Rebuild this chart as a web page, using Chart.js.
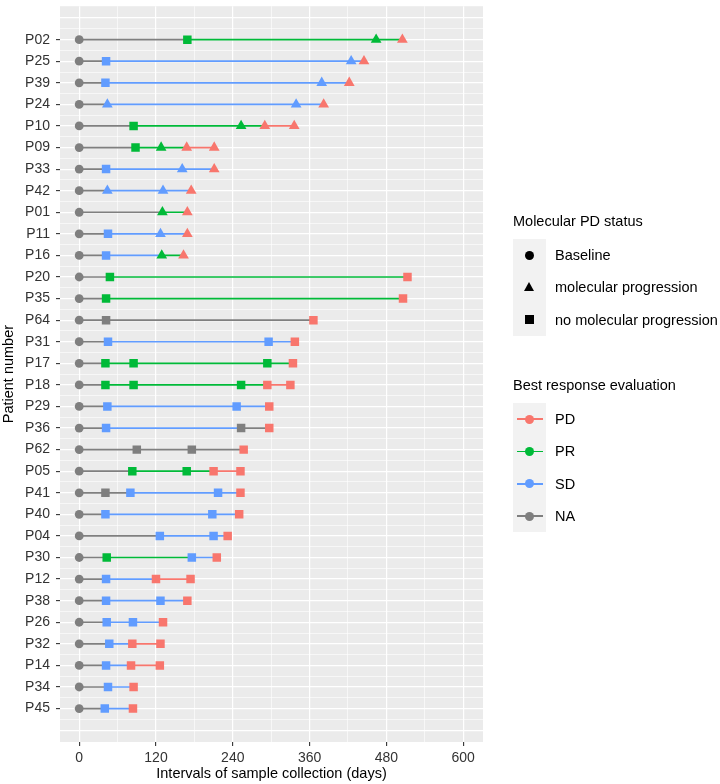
<!DOCTYPE html>
<html>
<head>
<meta charset="utf-8">
<script src="https://cdn.jsdelivr.net/npm/chart.js@4.4.0/dist/chart.umd.min.js"></script>
<style>
  body { margin: 0; background: #fff; }
  #wrap { position: relative; width: 720px; height: 784px; font-family: "Liberation Sans", Arial, sans-serif; }
  #chart { position: absolute; left: 0; top: 0; }
  .ltitle, .lab { position: absolute; left: 513px; font-size: 14.5px; line-height: 18px; height: 18px; color: #000; white-space: nowrap; }
  .lab { left: 555px; }
  .keybox { position: absolute; left: 513px; width: 33px; background: #F2F2F2; }
  .sym { position: absolute; }
</style>
</head>
<body>
<div id="wrap">
  <canvas id="chart" width="720" height="784"></canvas>
</div>
<script>
// swimmer plot: one row per patient, sample collection days

const patients = ['P02','P25','P39','P24','P10','P09','P33','P42','P01','P11','P16','P20','P35','P64','P31','P17',
                  'P18','P29','P36','P62','P05','P41','P40','P04','P30','P12','P38','P26','P32','P14','P34','P45'];

// days of each sample, per patient
const days = [
  [0,169,464,505], [0,42,425,445], [0,41,379,422], [0,44,339,382],
  [0,85,253,290,336], [0,88,128,168,211], [0,42,161,211], [0,44,131,175],
  [0,130,169], [0,45,127,169], [0,42,129,163], [0,48,513],
  [0,42,506], [0,42,366], [0,45,296,337], [0,41,85,294,334],
  [0,41,85,253,294,330], [0,44,246,297], [0,42,253,297], [0,90,176,257],
  [0,83,168,210,252], [0,41,80,217,252], [0,41,208,250], [0,126,210,232],
  [0,43,176,215], [0,42,120,174], [0,42,127,169], [0,43,84,131],
  [0,47,83,127], [0,42,81,126], [0,45,85], [0,40,84]
];

// molecular PD status: B = Baseline, M = molecular progression, N = no molecular progression
const status = [
  ['B','N','M','M'], ['B','N','M','M'], ['B','N','M','M'], ['B','M','M','M'],
  ['B','N','M','M','M'], ['B','N','M','M','M'], ['B','N','M','M'], ['B','M','M','M'],
  ['B','M','M'], ['B','N','M','M'], ['B','N','M','M'], ['B','N','N'],
  ['B','N','N'], ['B','N','N'], ['B','N','N','N'], ['B','N','N','N','N'],
  ['B','N','N','N','N','N'], ['B','N','N','N'], ['B','N','N','N'], ['B','N','N','N'],
  ['B','N','N','N','N'], ['B','N','N','N','N'], ['B','N','N','N'], ['B','N','N','N'],
  ['B','N','N','N'], ['B','N','N','N'], ['B','N','N','N'], ['B','N','N','N'],
  ['B','N','N','N'], ['B','N','N','N'], ['B','N','N'], ['B','N','N']
];

// best response evaluation at each sample
const response = [
  ['NA','PR','PR','PD'], ['NA','SD','SD','PD'], ['NA','SD','SD','PD'], ['NA','SD','SD','PD'],
  ['NA','PR','PR','PD','PD'], ['NA','PR','PR','PD','PD'], ['NA','SD','SD','PD'], ['NA','SD','SD','PD'],
  ['NA','PR','PD'], ['NA','SD','SD','PD'], ['NA','SD','PR','PD'], ['NA','PR','PD'],
  ['NA','PR','PD'], ['NA','NA','PD'], ['NA','SD','SD','PD'], ['NA','PR','PR','PR','PD'],
  ['NA','PR','PR','PR','PD','PD'], ['NA','SD','SD','PD'], ['NA','SD','NA','PD'], ['NA','NA','NA','PD'],
  ['NA','PR','PR','PD','PD'], ['NA','NA','SD','SD','PD'], ['NA','SD','SD','PD'], ['NA','SD','SD','PD'],
  ['NA','PR','SD','PD'], ['NA','SD','PD','PD'], ['NA','SD','SD','PD'], ['NA','SD','SD','PD'],
  ['NA','SD','PD','PD'], ['NA','SD','PD','PD'], ['NA','SD','PD'], ['NA','SD','PD']
];

const xTickValues = [0, 60, 120, 180, 240, 300, 360, 420, 480, 540, 600];

const statusLevels = ['B', 'M', 'N'];
const statusLabels = { B: 'Baseline', M: 'molecular progression', N: 'no molecular progression' };
const responseLevels = ['PD', 'PR', 'SD', 'NA'];

const responseColors = { PD: '#F8766D', PR: '#00BA38', SD: '#619CFF', NA: '#7F7F7F' };
const pointStyles = { B: 'circle', M: 'triangle', N: 'rect' };
const pointSizes = { B: 4.4, M: 6.2, N: 6 };

// grey panel behind the grid, ggplot style
const panelBg = {
  id: 'panelBg',
  beforeDraw(chart) {
    const { ctx, chartArea: a } = chart;
    ctx.save();
    ctx.fillStyle = '#EBEBEB';
    ctx.fillRect(a.left, a.top, a.right - a.left, a.bottom - a.top);
    ctx.restore();
  }
};

const datasets = patients.map((p, i) => ({
  label: p,
  data: days[i].map(d => ({ x: d, y: i })),
  showLine: true,
  borderWidth: 1.7,
  borderColor: responseColors.NA,
  segment: {
    // segment takes the colour of the sample it starts from
    borderColor: ctx => responseColors[response[i][ctx.p0DataIndex]]
  },
  pointStyle: status[i].map(s => pointStyles[s]),
  pointRadius: status[i].map(s => pointSizes[s]),
  pointBackgroundColor: response[i].map(r => responseColors[r]),
  pointBorderWidth: 0,
  tension: 0
}));

const yTickValues = [];
for (let v = -1; v <= 32; v += 0.5) yTickValues.push(v);

const isLabelRow = v => Number.isInteger(v) && v >= 0 && v < patients.length;

new Chart(document.getElementById('chart').getContext('2d'), {
  type: 'scatter',
  data: { datasets },
  plugins: [panelBg],
  options: {
    responsive: false,
    animation: false,
    devicePixelRatio: 1,
    events: [],
    layout: { padding: { left: 0, top: 3, right: 237, bottom: 0 } },
    plugins: { legend: { display: false }, tooltip: { enabled: false } },
    scales: {
      x: {
        type: 'linear',
        min: -30,
        max: 631,
        afterBuildTicks: scale => { scale.ticks = xTickValues.map(v => ({ value: v })); },
        afterFit: scale => { scale.height = 42; scale.paddingLeft = 0; scale.paddingRight = 0; },
        border: { display: false },
        grid: {
          color: '#FFFFFF',
          lineWidth: ctx => (ctx.tick && ctx.tick.value % 120 === 0) ? 1.2 : 0.6,
          tickLength: 4,
          tickWidth: 1.1,
          tickColor: ctx => (ctx.tick && ctx.tick.value % 120 === 0) ? '#333333' : 'rgba(0,0,0,0)'
        },
        ticks: {
          autoSkip: false,
          maxRotation: 0,
          padding: 4,
          color: '#333333',
          font: { family: 'Liberation Sans', size: 14 },
          callback: v => v % 120 === 0 ? String(v) : ''
        },
        title: {
          display: true,
          text: 'Intervals of sample collection (days)',
          color: '#000',
          font: { family: 'Liberation Sans', size: 14.5 },
          padding: { top: 0, bottom: 1 }
        }
      },
      y: {
        type: 'linear',
        min: -1.55,
        max: 32.55,
        reverse: true,
        afterBuildTicks: scale => { scale.ticks = yTickValues.map(v => ({ value: v })); },
        afterFit: scale => { scale.width = 60; scale.paddingTop = 0; scale.paddingBottom = 0; },
        border: { display: false },
        grid: {
          color: '#FFFFFF',
          lineWidth: ctx => (ctx.tick && Number.isInteger(ctx.tick.value)) ? 1.2 : 0.6,
          tickLength: 4,
          tickWidth: 1.1,
          tickColor: ctx => (ctx.tick && isLabelRow(ctx.tick.value)) ? '#333333' : 'rgba(0,0,0,0)'
        },
        ticks: {
          autoSkip: false,
          padding: 6,
          color: '#333333',
          font: { family: 'Liberation Sans', size: 14 },
          callback: v => isLabelRow(v) ? patients[v] : ''
        },
        title: {
          display: true,
          text: 'Patient number',
          color: '#000',
          font: { family: 'Liberation Sans', size: 14.5 },
          padding: { top: 0, bottom: 0 }
        }
      }
    }
  }
});

// legends, drawn as html next to the panel
const wrap = document.getElementById('wrap');
function addEl(cls, css, text) {
  const el = document.createElement('div');
  el.className = cls;
  el.style.cssText = css;
  if (text) el.textContent = text;
  wrap.appendChild(el);
  return el;
}

const rowH = 32.3;
const keyX = 529.5;

// shape legend
addEl('ltitle', 'top:212px', 'Molecular PD status');
addEl('keybox', `top:239px;height:${rowH * statusLevels.length}px`);
statusLevels.forEach((s, k) => {
  const cy = 239 + (k + 0.5) * rowH;
  if (s === 'B') {
    addEl('sym', `left:${keyX - 4.5}px;top:${cy - 4.5}px;width:9px;height:9px;border-radius:50%;background:#000`);
  } else if (s === 'M') {
    addEl('sym', `left:${keyX - 5.5}px;top:${cy - 5}px;width:0;height:0;border-left:5.5px solid transparent;border-right:5.5px solid transparent;border-bottom:9.5px solid #000`);
  } else {
    addEl('sym', `left:${keyX - 4.5}px;top:${cy - 4.5}px;width:9px;height:9px;background:#000`);
  }
  addEl('lab', `top:${cy - 9}px`, statusLabels[s]);
});

// colour legend
addEl('ltitle', 'top:376px', 'Best response evaluation');
addEl('keybox', `top:403px;height:${rowH * responseLevels.length}px`);
responseLevels.forEach((r, k) => {
  const cy = 403 + (k + 0.5) * rowH;
  const c = responseColors[r];
  addEl('sym', `left:517px;top:${cy - 0.9}px;width:26px;height:1.8px;background:${c}`);
  addEl('sym', `left:${keyX - 4.5}px;top:${cy - 4.5}px;width:9px;height:9px;border-radius:50%;background:${c}`);
  addEl('lab', `top:${cy - 9}px`, r);
});
</script>
</body>
</html>
